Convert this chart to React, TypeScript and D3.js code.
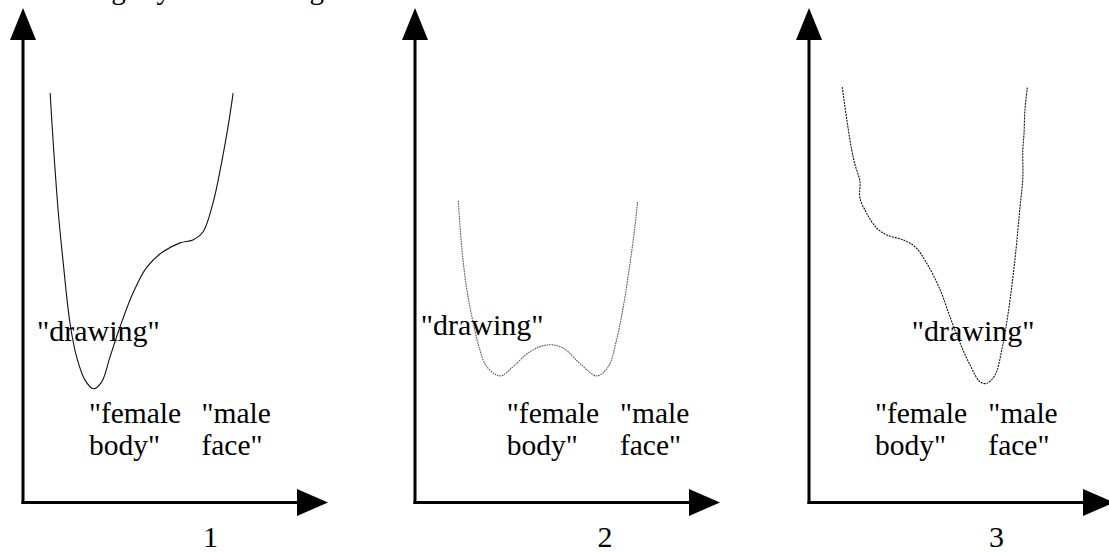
import React from "react";
import * as d3 from "d3";

const W = 1109;
const H = 552;

// Panel ids and their axis labels
const panelIds = ["1", "2", "3"];

// Energy landscape curves (x along axis 0..10, y up 0..10)
const curve1: [number, number][] = [
  [0.89, 8.28], [1.0, 7.19], [1.16, 5.85], [1.32, 4.84], [1.54, 3.63], [1.76, 2.94],
  [2.03, 2.48], [2.31, 2.3], [2.58, 2.44], [2.85, 2.94], [3.18, 3.55], [3.61, 4.24],
  [4.06, 4.76], [4.59, 5.07], [5.15, 5.25], [5.57, 5.31], [5.9, 5.47], [6.23, 6.06],
  [6.51, 6.87], [6.72, 7.59], [6.89, 8.28],
];
const curve2: [number, number][] = [
  [1.42, 6.1], [1.53, 5.17], [1.7, 4.3], [1.91, 3.63], [2.13, 3.08], [2.35, 2.75],
  [2.79, 2.56], [3.22, 2.75], [3.77, 3.05], [4.37, 3.19], [4.86, 3.12], [5.41, 2.81],
  [5.96, 2.56], [6.34, 2.75], [6.61, 3.29], [6.83, 3.96], [7.05, 4.84], [7.21, 5.58],
  [7.3, 6.1],
];
const curve3: [number, number][] = [
  [1.09, 8.4], [1.24, 7.74], [1.4, 7.13], [1.51, 6.83], [1.67, 6.49], [1.67, 6.16],
  [1.89, 5.85], [2.22, 5.55], [2.55, 5.41], [3.09, 5.31], [3.48, 5.17], [3.86, 4.84],
  [4.3, 4.3], [4.62, 3.76], [4.95, 3.23], [5.28, 2.78], [5.61, 2.44], [5.83, 2.41],
  [6.1, 2.58], [6.32, 3.08], [6.53, 3.83], [6.75, 4.9], [6.92, 5.98], [7.01, 6.56],
  [7.01, 7.13], [7.05, 7.47], [7.08, 7.94], [7.16, 8.4],
];
const curves = [curve1, curve2, curve3];

// Label anchor positions in data units (x, y of baseline)
const drawingLabelX = [0.46, 0.19, 3.37];
const drawingLabelY = [3.26, 3.39, 3.26];
const femaleLabelX = [2.16, 3.01, 2.16];
const maleLabelX = [5.85, 6.72, 5.88];
const stateLabelY1 = 1.6;
const stateLabelY2 = 0.97;
const numberLabelX = [6.15, 6.23, 6.15];

const originXs = [23, 415, 809];
const originY = 502.5;
const axisLen = 305;
const topY = 8;

const font = "Liberation Serif";

function Panel({ i }: { i: number }) {
  const ox = originXs[i];
  const x = d3.scaleLinear().domain([0, 10]).range([ox, ox + axisLen]);
  const y = d3.scaleLinear().domain([0, 10]).range([originY, topY]);
  const line = d3
    .line<[number, number]>()
    .x((d) => x(d[0]))
    .y((d) => y(d[1]))
    .curve(d3.curveCatmullRom.alpha(0.5));
  const dash = i === 0 ? undefined : i === 1 ? "1.6 0.9" : "2 1";
  const stroke = i === 1 ? "#555" : "#111";
  const tipX = x(10);
  const arrowLen = 31;
  const arrowHalf = 13.5;
  return (
    <g>
      <path d={line(curves[i]) || ""} fill="none" stroke={stroke} strokeWidth={1.1} strokeDasharray={dash} />
      <line x1={ox} y1={originY + 1.5} x2={ox} y2={topY + arrowLen} stroke="#000" strokeWidth={3} />
      <path d={`M${ox},${topY} L${ox - 13},${topY + 32} L${ox + 13},${topY + 32} Z`} fill="#000" />
      <line x1={ox - 1.5} y1={originY} x2={tipX - arrowLen} y2={originY} stroke="#000" strokeWidth={3} />
      <path
        d={`M${tipX},${originY} L${tipX - arrowLen},${originY - arrowHalf} L${tipX - arrowLen},${originY + arrowHalf} Z`}
        fill="#000"
      />
      <g fill="#000" fontFamily={font} fontSize={29.5}>
        <text x={x(drawingLabelX[i])} y={y(drawingLabelY[i])} fontSize={30}>"drawing"</text>
        <text x={x(femaleLabelX[i])} y={y(stateLabelY1)}>"female</text>
        <text x={x(femaleLabelX[i])} y={y(stateLabelY2)}>body"</text>
        <text x={x(maleLabelX[i])} y={y(stateLabelY1)}>"male</text>
        <text x={x(maleLabelX[i])} y={y(stateLabelY2)}>face"</text>
        <text x={x(numberLabelX[i])} y={546.5} textAnchor="middle" fontSize={30}>{panelIds[i]}</text>
      </g>
    </g>
  );
}

export default function App() {
  return (
    <svg
      width={W}
      height={H}
      viewBox={`0 0 ${W} ${H}`}
      style={{ position: "fixed", left: 0, top: 0, background: "#fff", display: "block" }}
    >
      <rect width={W} height={H} fill="#fff" />
      <text x={497} y={-1} textAnchor="end" fontFamily={font} fontSize={29} fill="#000">
        ambiguity: the drawing is a male face.
      </text>
      {panelIds.map((_, i) => (
        <Panel key={i} i={i} />
      ))}
    </svg>
  );
}
